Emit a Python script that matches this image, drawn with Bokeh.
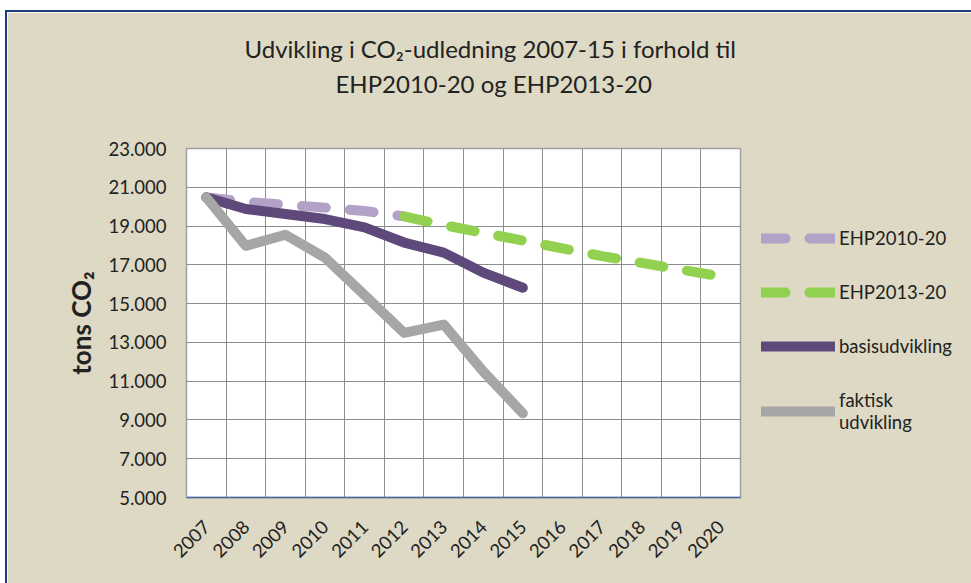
from math import pi
from bokeh.plotting import figure
from bokeh.models import FixedTicker, Legend, LegendItem, Title, Range1d
from bokeh.embed import file_html
from bokeh.resources import INLINE

# ---- data ----
years = list(range(2007, 2021))
ehp2010_years = [2007, 2008, 2009, 2010, 2011, 2012]
ehp2010 = [20480, 20250, 20100, 19950, 19780, 19500]
ehp2013_years = [2012, 2013, 2014, 2015, 2016, 2017, 2018, 2019, 2020]
ehp2013 = [19500, 19050, 18650, 18250, 17850, 17450, 17100, 16750, 16400]
actual_years = [2007, 2008, 2009, 2010, 2011, 2012, 2013, 2014, 2015]
basis = [20480, 19880, 19620, 19360, 18930, 18150, 17630, 16600, 15820]
faktisk = [20480, 17980, 18550, 17370, 15440, 13490, 13920, 11500, 9340]
y_ticks = [5000, 7000, 9000, 11000, 13000, 15000, 17000, 19000, 21000, 23000]
title_lines = ["Udvikling i CO₂-udledning 2007-15 i forhold til", "EHP2010-20 og EHP2013-20"]

BG = "#DDD9C4"
TXT = "#222222"
FONT = "Lato"

p = figure(frame_width=554, frame_height=349, output_backend="svg", toolbar_location=None,
           x_range=Range1d(2006.5, 2020.5), y_range=Range1d(5000, 23000),
           min_border_left=179, min_border_right=231, min_border_top=136,
           min_border_bottom=86)
p.styles = {"margin-left": "5px", "margin-top": "10px",
            "border-top": "2px solid #1F3A7A", "border-left": "2px solid #1F3A7A"}
p.background_fill_color = "white"
p.border_fill_color = BG
p.outline_line_color = "#A0A0A0"
p.outline_line_width = 1.5

# x axis
p.xaxis.ticker = FixedTicker(ticks=years)
p.xaxis.major_label_overrides = {y: str(y) for y in years}
p.xaxis.major_label_orientation = pi / 4
p.xaxis.axis_line_color = "#4A6899"
p.xaxis.axis_line_width = 1.5
p.xaxis.major_tick_in = 0
p.xaxis.major_tick_out = 0
p.xaxis.minor_tick_line_color = None
p.xaxis.major_label_standoff = 26
p.xaxis.major_label_text_font = FONT
p.xaxis.major_label_text_font_size = "18.5px"
p.xaxis.major_label_text_color = TXT

# y axis
p.yaxis.ticker = FixedTicker(ticks=y_ticks)
p.yaxis.major_label_overrides = {v: f"{v:,}".replace(",", ".") for v in y_ticks}
p.yaxis.axis_line_color = None
p.yaxis.major_tick_in = 0
p.yaxis.major_tick_out = 0
p.yaxis.minor_tick_line_color = None
p.yaxis.major_label_standoff = 20
p.yaxis.major_label_text_font = FONT
p.yaxis.major_label_text_font_size = "18.5px"
p.yaxis.major_label_text_color = TXT
p.yaxis.axis_label = "tons CO₂"
p.yaxis.axis_label_text_font = FONT
p.yaxis.axis_label_text_font_style = "bold"
p.yaxis.axis_label_text_font_size = "26px"
p.yaxis.axis_label_text_color = TXT
p.yaxis.axis_label_standoff = 8

# grid
p.xgrid.ticker = FixedTicker(ticks=[y + 0.5 for y in years[:-1]])
p.xgrid.grid_line_color = "#8C8C8C"
p.ygrid.grid_line_color = "#8C8C8C"

r1 = p.line(ehp2010_years, ehp2010, line_width=10, line_color="#B3A2C7",
            line_dash="24 24", line_cap="round", line_join="round")
r2 = p.line(ehp2013_years, ehp2013, line_width=10, line_color="#92D050",
            line_dash="24 24", line_cap="round", line_join="round")
r3 = p.line(actual_years, basis, line_width=10, line_color="#5F497A",
            line_cap="round", line_join="round")
r4 = p.line(actual_years, faktisk, line_width=10, line_color="#A6A6A6",
            line_cap="round", line_join="round")

legend = Legend(items=[LegendItem(label="EHP2010-20", renderers=[r1]),
                       LegendItem(label="EHP2013-20", renderers=[r2]),
                       LegendItem(label="basisudvikling", renderers=[r3]),
                       LegendItem(label="faktisk\nudvikling", renderers=[r4])],
                location="top_left", glyph_width=74, glyph_height=22,
                label_height=22, label_standoff=4, spacing=32, padding=0,
                margin=21, border_line_alpha=0, background_fill_alpha=0,
                title=" ", title_text_font_size="10px", title_standoff=47,
                label_text_font=FONT, label_text_font_size="18.5px",
                label_text_line_height=1.3, label_text_color=TXT)
p.add_layout(legend, "right")

# title: spacer closest to the plot, then second line, then first line
p.add_layout(Title(text=" ", standoff=36, text_font=FONT, text_font_size="10px"), "above")
p.add_layout(Title(text=title_lines[1], align="left", offset=149, standoff=2,
                   text_font=FONT, text_font_size="24px", text_font_style="normal",
                   text_color=TXT), "above")
p.add_layout(Title(text=title_lines[0], align="left", offset=58, standoff=6,
                   text_font=FONT, text_font_size="24px", text_font_style="normal",
                   text_color=TXT), "above")

open("out.html", "w").write(file_html(p, INLINE))
